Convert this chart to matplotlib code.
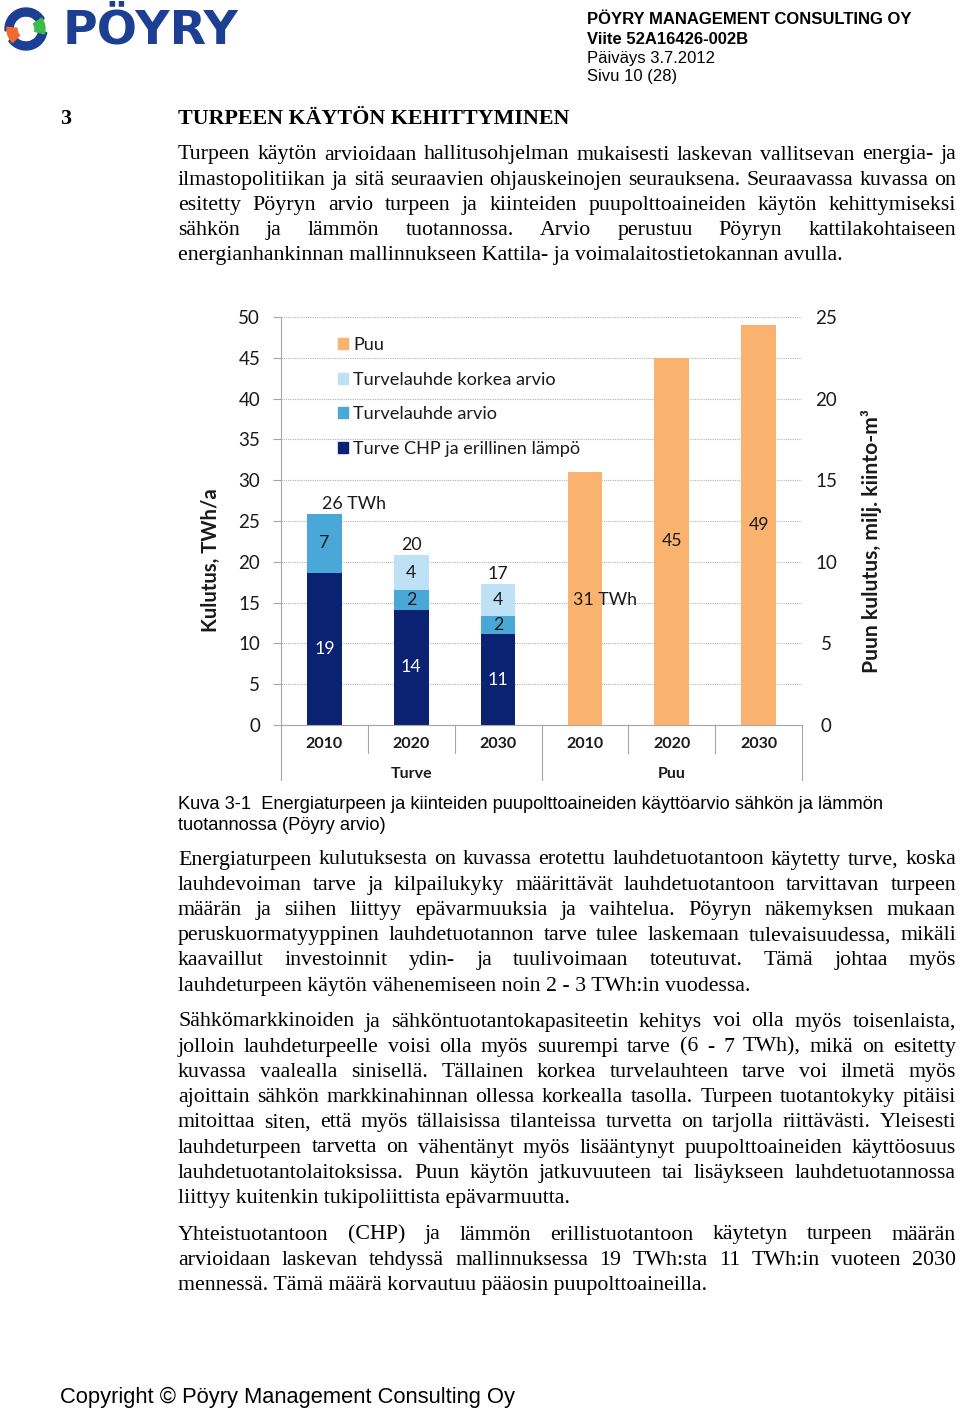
import numpy as np
import matplotlib
matplotlib.use("Agg")
import matplotlib.pyplot as plt
import matplotlib.transforms as mtransforms
from matplotlib.patches import Patch, Wedge
from matplotlib import font_manager

# ---------------- data ----------------
categories = ["2010", "2020", "2030"]
groups = ["Turve", "Puu"]
turve_chp = [18.6, 14.1, 11.1]          # TWh/a
turve_lauhde = [7.3, 2.4, 2.2]          # TWh/a
turve_lauhde_korkea = [0.0, 4.3, 4.0]   # TWh/a
puu_milj_m3 = [15.5, 22.5, 24.5]        # milj. kiinto-m3 (right axis)
chp_labels = ["19", "14", "11"]
lauhde_labels = ["7", "2", "2"]
korkea_labels = ["", "4", "4"]
total_labels = ["26 TWh", "20", "17"]
puu_labels = ["31 TWh", "45", "49"]
left_ticks = [0, 5, 10, 15, 20, 25, 30, 35, 40, 45, 50]
right_ticks = [0, 5, 10, 15, 20, 25]
legend_labels = ["Puu", "Turvelauhde korkea arvio", "Turvelauhde arvio",
                 "Turve CHP ja erillinen lämpö"]

header_lines = ["PÖYRY MANAGEMENT CONSULTING OY", "Viite 52A16426-002B",
                "Päiväys 3.7.2012", "Sivu 10 (28)"]
heading_num = "3"
heading = "TURPEEN KÄYTÖN KEHITTYMINEN"
para1 = ["Turpeen käytön arvioidaan hallitusohjelman mukaisesti laskevan vallitsevan energia- ja",
         "ilmastopolitiikan ja sitä seuraavien ohjauskeinojen seurauksena. Seuraavassa kuvassa on",
         "esitetty Pöyryn arvio turpeen ja kiinteiden puupolttoaineiden käytön kehittymiseksi",
         "sähkön ja lämmön tuotannossa. Arvio perustuu Pöyryn kattilakohtaiseen",
         "energianhankinnan mallinnukseen Kattila- ja voimalaitostietokannan avulla."]
caption = ["Kuva 3-1  Energiaturpeen ja kiinteiden puupolttoaineiden käyttöarvio sähkön ja lämmön",
           "tuotannossa (Pöyry arvio)"]
para2 = ["Energiaturpeen kulutuksesta on kuvassa erotettu lauhdetuotantoon käytetty turve, koska",
         "lauhdevoiman tarve ja kilpailukyky määrittävät lauhdetuotantoon tarvittavan turpeen",
         "määrän ja siihen liittyy epävarmuuksia ja vaihtelua. Pöyryn näkemyksen mukaan",
         "peruskuormatyyppinen lauhdetuotannon tarve tulee laskemaan tulevaisuudessa, mikäli",
         "kaavaillut investoinnit ydin- ja tuulivoimaan toteutuvat. Tämä johtaa myös",
         "lauhdeturpeen käytön vähenemiseen noin 2 - 3 TWh:in vuodessa."]
para3 = ["Sähkömarkkinoiden ja sähköntuotantokapasiteetin kehitys voi olla myös toisenlaista,",
         "jolloin lauhdeturpeelle voisi olla myös suurempi tarve (6 - 7 TWh), mikä on esitetty",
         "kuvassa vaalealla sinisellä. Tällainen korkea turvelauhteen tarve voi ilmetä myös",
         "ajoittain sähkön markkinahinnan ollessa korkealla tasolla. Turpeen tuotantokyky pitäisi",
         "mitoittaa siten, että myös tällaisissa tilanteissa turvetta on tarjolla riittävästi. Yleisesti",
         "lauhdeturpeen tarvetta on vähentänyt myös lisääntynyt puupolttoaineiden käyttöosuus",
         "lauhdetuotantolaitoksissa. Puun käytön jatkuvuuteen tai lisäykseen lauhdetuotannossa",
         "liittyy kuitenkin tukipoliittista epävarmuutta."]
para4 = ["Yhteistuotantoon (CHP) ja lämmön erillistuotantoon käytetyn turpeen määrän",
         "arvioidaan laskevan tehdyssä mallinnuksessa 19 TWh:sta 11 TWh:in vuoteen 2030",
         "mennessä. Tämä määrä korvautuu pääosin puupolttoaineilla."]
footer = "Copyright © Pöyry Management Consulting Oy"

# ---------------- style ----------------
NAVY = "#0b2272"
MID = "#4aa8d8"
LIGHT = "#bfe1f5"
ORANGE = "#f9b36e"
GRID = "#b5b5b5"
AXC = "#a6a6a6"
TXT = "#1a1a1a"
LOGO_BLUE = "#1c3f94"

plt.rcParams["font.family"] = ["Lato", "DejaVu Sans"]

W, H = 960, 1410
fig = plt.figure(figsize=(W / 100, H / 100), dpi=100)
fig.patch.set_facecolor("white")
renderer = fig.canvas.get_renderer()
DY = 2  # visual centre correction for va="center"

def fx(x):
    return x / W

def fy(y):
    return 1 - (y + DY) / H

installed = {f.name for f in font_manager.fontManager.ttflist}
SERIF = "Liberation Serif"
SANS = "Liberation Sans"
NARROW = "Liberation Sans Narrow" if "Liberation Sans Narrow" in installed else "Liberation Sans"

def measure(s, **kw):
    t = fig.text(0, 0, s, **kw)
    w = t.get_window_extent(renderer).width
    t.remove()
    return w

def fit_size(s, target, **kw):
    return 10 * target / measure(s, fontsize=10, **kw)

def put_line(line, y, x0, x1, justify, **kw):
    words = line.split(" ")
    if not justify or len(words) == 1:
        fig.text(fx(x0), fy(y), line, va="center", **kw)
        return
    widths = [measure(w, **kw) for w in words]
    gap = (x1 - x0 - sum(widths)) / (len(words) - 1)
    x = x0
    for w, wd in zip(words, widths):
        fig.text(fx(x), fy(y), w, va="center", **kw)
        x += wd + gap

def paragraph(lines, y0, pitch=25.2, x0=178, x1=956, **kw):
    for i, line in enumerate(lines):
        put_line(line, y0 + i * pitch, x0, x1, i < len(lines) - 1, **kw)

# ---------------- header / logo ----------------
hs = fit_size(header_lines[0], 324, family=NARROW, fontweight="bold")
for i, line in enumerate(header_lines):
    fig.text(fx(587), fy(18 + i * 19), line, family=NARROW, fontsize=hs,
             fontweight="bold" if i < 2 else "normal", va="center", color="black")

ls = fit_size("PÖYRY", 177, family="DejaVu Sans", fontweight="bold")
fig.text(fx(63), fy(29), "PÖYRY", family="DejaVu Sans", fontweight="bold",
         fontsize=ls, color=LOGO_BLUE, va="center")

axl = fig.add_axes([fx(3), fy(52 - DY), 46 / W, 46 / H])
axl.set_xlim(0, 46)
axl.set_ylim(0, 46)
axl.set_aspect("equal")
axl.axis("off")
axl.add_patch(Wedge((23, 23), 21, 30, 185, width=8, color=LOGO_BLUE))
axl.add_patch(Wedge((23, 23), 21, 215, 350, width=8, color=LOGO_BLUE))
axl.add_patch(Wedge((23, 23), 19, 175, 225, width=10, color="#f26b2e"))
axl.add_patch(Wedge((23, 23), 19, -15, 35, width=10, color="#3dbb4a"))

# ---------------- heading & text ----------------
BODY = fit_size(para1[-1], 669, family=SERIF)
HEAD = fit_size(heading, 390, family=SERIF, fontweight="bold")
fig.text(fx(60), fy(117), heading_num, family=SERIF, fontweight="bold", fontsize=HEAD, va="center")
fig.text(fx(178), fy(117), heading, family=SERIF, fontweight="bold", fontsize=HEAD, va="center")

paragraph(para1, 153, family=SERIF, fontsize=BODY)
paragraph(para2, 858, family=SERIF, fontsize=BODY)
paragraph(para3, 1020, family=SERIF, fontsize=BODY)
paragraph(para4, 1233, family=SERIF, fontsize=BODY)

CAP = fit_size(caption[0], 708, family=SANS)
fig.text(fx(178), fy(802), caption[0], family=SANS, fontsize=CAP, va="center")
fig.text(fx(178), fy(823), caption[1], family=SANS, fontsize=CAP, va="center")

FOOT = fit_size(footer, 456, family=SANS)
fig.text(fx(60), fy(1395), footer, family=SANS, fontsize=FOOT, va="center")

# ---------------- chart ----------------
ax = fig.add_axes([281 / W, 1 - 725 / H, (802 - 281) / W, (725 - 317) / H])
xt = np.arange(len(categories))
xp = np.arange(len(categories), 2 * len(categories))
bw = 0.4
chp = np.array(turve_chp)
lau = np.array(turve_lauhde)
kor = np.array(turve_lauhde_korkea)

b1 = ax.bar(xt, chp, bw, color=NAVY, zorder=2)
b2 = ax.bar(xt, lau, bw, bottom=chp, color=MID, zorder=2)
b3 = ax.bar(xt, kor, bw, bottom=chp + lau, color=LIGHT, zorder=2)
ax.set_xlim(-0.5, 5.5)
ax.set_ylim(0, 50)
ax.set_yticks(left_ticks)
ax.set_axisbelow(True)
ax.grid(axis="y", color=GRID, linestyle=(0, (1, 1)), linewidth=0.8)
for s in ["top", "right"]:
    ax.spines[s].set_visible(False)
ax.spines["left"].set_color(AXC)
ax.spines["bottom"].set_color(AXC)
ax.tick_params(axis="y", length=5.5, color=AXC, pad=9.5, labelsize=13.5, labelcolor=TXT)
ax.set_xticks(np.concatenate([xt, xp]))
ax.set_xticklabels(categories + categories, fontweight="bold", fontsize=11.5, color=TXT)
ax.tick_params(axis="x", length=0, pad=8.5)

ax2 = ax.twinx()
bp = ax2.bar(xp, puu_milj_m3, bw, color=ORANGE, zorder=2)
ax2.set_ylim(0, 25)
ax2.set_yticks(right_ticks)
for s in ["top", "right", "left", "bottom"]:
    ax2.spines[s].set_visible(False)
ax2.tick_params(axis="y", length=0, pad=17.5, labelsize=13.5, labelcolor=TXT)
for t in ax2.get_yticklabels():
    t.set_horizontalalignment("center")

# data labels
LBL = 12.8
ax.bar_label(b1, labels=chp_labels, label_type="center", color="white", fontsize=LBL)
ax.bar_label(b2, labels=lauhde_labels, label_type="center", color=TXT, fontsize=LBL)
ax.bar_label(b3, labels=korkea_labels, label_type="center", color=TXT, fontsize=LBL)
tot = ax.bar_label(b3, labels=total_labels, label_type="edge", padding=1.5, color=TXT, fontsize=LBL)
tot[0].xyann = (21, tot[0].xyann[1])
pl = ax2.bar_label(bp, labels=puu_labels, label_type="center", color=TXT, fontsize=LBL)
pl[0].xyann = (14.5, pl[0].xyann[1] - 1)

# category separators and group labels
trans = mtransforms.blended_transform_factory(ax.transData, ax.transAxes)
ph = 725 - 317
for xv in [-0.5, 2.5, 5.5]:
    ax.plot([xv, xv], [0, -(780 - 725) / ph], transform=trans, clip_on=False, color=AXC, lw=0.8)
for xv in [0.5, 1.5, 3.5, 4.5]:
    ax.plot([xv, xv], [0, -(753 - 725) / ph], transform=trans, clip_on=False, color=AXC, lw=0.8)
for gi, g in enumerate(groups):
    ax.text(1 + 3 * gi, -(774 - 725) / ph, g, transform=trans, ha="center", va="center",
            fontweight="bold", fontsize=11.5, color=TXT)

# axis labels
ax.set_ylabel("Kulutus, TWh/a", fontweight="bold", fontsize=14.6, color=TXT)
ax.yaxis.set_label_coords((211 - 281) / 521, (725 - 560) / ph)
ax.yaxis.label.set_va("center")
ax2.set_ylabel("Puun kulutus, milj. kiinto-m³", fontweight="bold", fontsize=15.2, color=TXT)
ax2.yaxis.set_label_coords((872 - 281) / 521, (725 - 541) / ph)
ax2.yaxis.label.set_va("center")

# legend
handles = [Patch(color=ORANGE), Patch(color=LIGHT), Patch(color=MID), Patch(color=NAVY)]
ax2.legend(handles, legend_labels, loc="upper left",
           bbox_to_anchor=((338 - 281) / 521, (725 - 337) / ph),
           frameon=False, handlelength=0.55, handleheight=0.55, handletextpad=0.3,
           labelspacing=1.02, borderaxespad=0, borderpad=0, fontsize=13.1,
           labelcolor=TXT)

fig.savefig("out.png", dpi=100, facecolor="white")
